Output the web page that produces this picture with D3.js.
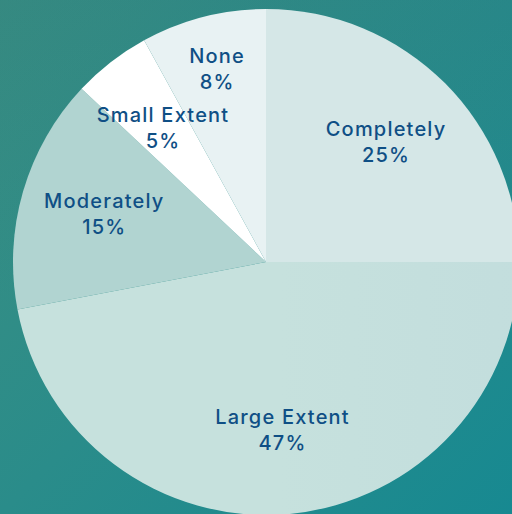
<!DOCTYPE html>
<html>
<head>
<meta charset="utf-8">
<script src="https://cdn.jsdelivr.net/npm/d3@7/dist/d3.min.js"></script>
<style>
  html, body { margin: 0; padding: 0; background: #2a8c88; }
  svg { display: block; }
</style>
</head>
<body>
<script>
// Survey responses, clockwise from 12 o'clock
const categories = ["Completely", "Large Extent", "Moderately", "Small Extent", "None"];
const shares = [25, 47, 15, 5, 8];
const sliceColors = ["#d5e7e7", "url(#largeGrad)", "#b1d4d1", "#ffffff", "#e8f2f3"];

const W = 512, H = 514;
const cx = 266, cy = 262, R = 253;
const labelR = 169;
const labelPush = { "None": 30 };

const svg = d3.select("body").append("svg")
  .attr("width", W).attr("height", H);

const defs = svg.append("defs");

// teal backdrop: greener at top-left, bluer toward bottom-right
const bg = defs.append("linearGradient").attr("id", "bgGrad")
  .attr("x1", "0").attr("y1", "0").attr("x2", "1").attr("y2", "1");
bg.append("stop").attr("offset", "0").attr("stop-color", "#3b8f81");
bg.append("stop").attr("offset", "0.5").attr("stop-color", "#2a8c8a");
bg.append("stop").attr("offset", "1").attr("stop-color", "#178991");

const bg2 = defs.append("linearGradient").attr("id", "bgShade")
  .attr("x1", "0").attr("y1", "0").attr("x2", "0").attr("y2", "1");
bg2.append("stop").attr("offset", "0").attr("stop-color", "#1e6f80").attr("stop-opacity", 0.18);
bg2.append("stop").attr("offset", "0.6").attr("stop-color", "#1e6f80").attr("stop-opacity", 0);

const lg = defs.append("linearGradient").attr("id", "largeGrad")
  .attr("gradientUnits", "userSpaceOnUse")
  .attr("x1", cx - R).attr("y1", cy).attr("x2", cx + R).attr("y2", cy);
lg.append("stop").attr("offset", "0").attr("stop-color", "#c6e1dd");
lg.append("stop").attr("offset", "1").attr("stop-color", "#bfdadd");

svg.append("rect").attr("width", W).attr("height", H).attr("fill", "url(#bgGrad)");
svg.append("rect").attr("width", W).attr("height", H).attr("fill", "url(#bgShade)");

const pie = d3.pie().sort(null).value(d => d.value);
const data = pie(categories.map((c, i) => ({ name: c, value: shares[i], color: sliceColors[i] })));

const arc = d3.arc().innerRadius(0).outerRadius(R);

const g = svg.append("g").attr("transform", `translate(${cx},${cy})`);

g.selectAll("path.slice").data(data).join("path")
  .attr("class", "slice")
  .attr("d", arc)
  .attr("fill", d => d.data.color);

const labels = g.selectAll("g.label").data(data).join("g")
  .attr("class", "label")
  .attr("transform", d => {
    const r = labelR + (labelPush[d.data.name] || 0);
    const c = d3.arc().innerRadius(r).outerRadius(r).centroid(d);
    return `translate(${c[0]},${c[1]})`;
  });

const fontFamily = "Inter, 'Open Sans', sans-serif";
const addLine = (y, fn) => labels.append("text")
  .attr("text-anchor", "middle")
  .attr("x", 0.6)
  .attr("y", y)
  .attr("font-family", fontFamily)
  .attr("font-weight", 500)
  .attr("font-size", 20)
  .attr("letter-spacing", 1.2)
  .attr("fill", "#0f4f85")
  .text(fn);

addLine(-6.5, d => d.data.name);
addLine(19.5, d => d.data.value + "%");
</script>
</body>
</html>
